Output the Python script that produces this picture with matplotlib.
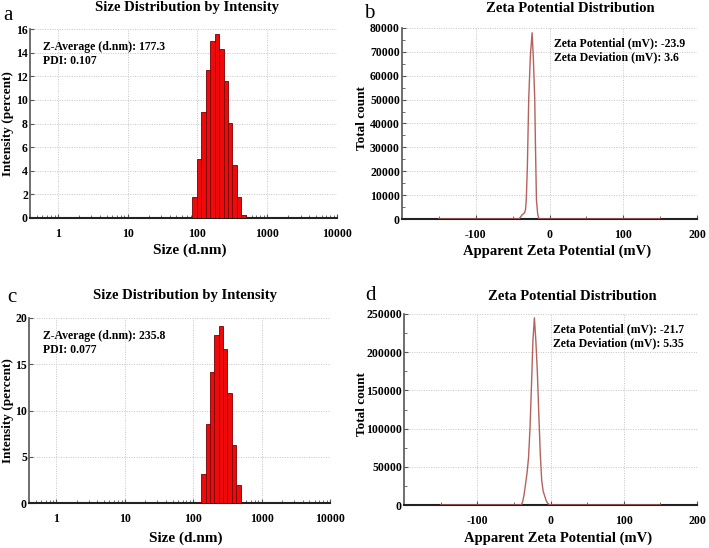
import numpy as np
import matplotlib
matplotlib.use("Agg")
import matplotlib.pyplot as plt
from matplotlib.ticker import FixedLocator, NullFormatter, LogLocator

# ---------------- data ----------------
size_a = [78.82, 91.28, 105.7, 122.4, 141.8, 164.2, 190.1, 220.2, 255.0, 295.3, 342.0, 396.1, 458.7]
intensity_a = [0.1, 1.78, 5.03, 8.95, 12.54, 14.97, 15.54, 14.27, 11.58, 8.05, 4.52, 1.78, 0.28]

size_c = [122.4, 141.8, 164.2, 190.1, 220.2, 255.0, 295.3, 342.0, 396.1, 458.7]
intensity_c = [0.07, 3.1, 8.5, 14.2, 18.2, 19.1, 16.6, 11.9, 6.3, 1.95]

zeta_b = [-150, -43, -40, -37, -34, -32.5, -31.5, -30, -28.2, -26, -23.6, -22, -20, -19, -17.7, -16, -14.5, -13.5, 150]
count_b = [0, 0, 500, 1800, 2500, 4000, 8000, 22000, 50000, 68000, 78000, 68000, 50000, 30000, 8000, 2000, 300, 0, 0]

zeta_d = [-150, -40, -38, -36, -34, -32, -30, -28, -26, -24, -22, -20, -18, -16, -14, -12, -10, -8, -6, -4, -2, 0, 150]
count_d = [0, 0, 4000, 14000, 28000, 42000, 62000, 100000, 155000, 215000, 245000, 215000, 175000, 120000, 68000, 32000, 18000, 12000, 6000, 2500, 700, 0, 0]

size_ticks = [1, 10, 100, 1000, 10000]
size_tick_labels = ["1", "10", "100", "1000", "10000"]
zeta_ticks = [-100, 0, 100, 200]
zeta_tick_labels = ["-100", "0", "100", "200"]

notes_a = ["Z-Average (d.nm): 177.3", "PDI: 0.107"]
notes_b = ["Zeta Potential (mV): -23.9", "Zeta Deviation (mV): 3.6"]
notes_c = ["Z-Average (d.nm): 235.8", "PDI: 0.077"]
notes_d = ["Zeta Potential (mV): -21.7", "Zeta Deviation (mV): 5.35"]

# ---------------- style ----------------
plt.rcParams['font.family'] = ['Liberation Serif', 'DejaVu Serif']
W, H = 709, 548
fig = plt.figure(figsize=(W / 100, H / 100), dpi=100)

def rect(l, r, t, b):
    return [l / W, 1 - b / H, (r - l) / W, (b - t) / H]

def ftext(x, y, s, **kw):
    fig.text(x / W, 1 - y / H, s, **kw)

TICK_FS = 8.5
TITLE_FS = 10.5
NOTE_FS = 8.5
GRID_KW = dict(color='#c4c4c4', linestyle=(0, (1, 1.5)), linewidth=0.7)

def style_axes(ax):
    for side in ['top', 'right']:
        ax.spines[side].set_visible(False)
    ax.spines['left'].set_color('#555555')
    ax.spines['left'].set_linewidth(1.2)
    ax.spines['bottom'].set_color('#222222')
    ax.spines['bottom'].set_linewidth(1.5)
    ax.tick_params(which='both', direction='in', colors='#555555', labelcolor='black',
                   labelsize=TICK_FS)
    ax.tick_params(which='major', length=3, width=0.8, pad=1.5)
    ax.tick_params(which='minor', length=2, width=0.6)
    for lab in ax.get_xticklabels() + ax.get_yticklabels():
        lab.set_fontweight('bold')
    ax.grid(True, which='major', **GRID_KW)
    ax.set_axisbelow(True)

def size_panel(box, sizes, vals, ymax, ystep, notes, note_xy, title_xy, title,
               letter, letter_xy, xlab_y, ylab_x):
    ax = fig.add_axes(rect(*box))
    s = np.asarray(sizes, dtype=float)
    logs = np.log10(s)
    step = np.mean(np.diff(logs))
    left = 10 ** (logs - step / 2)
    right = 10 ** (logs + step / 2)
    ax.bar(left, vals, width=right - left, align='edge', color='#ee0a0a',
           edgecolor='#7a0000', linewidth=0.6, zorder=3)
    ax.set_xscale('log')
    ax.set_xlim(0.4, 10000)
    ax.set_ylim(0, ymax)
    ax.xaxis.set_major_locator(FixedLocator(size_ticks))
    ax.set_xticklabels(size_tick_labels)
    ax.xaxis.set_minor_locator(LogLocator(base=10, subs=np.arange(2, 10)))
    ax.xaxis.set_minor_formatter(NullFormatter())
    yt = np.arange(0, ymax + 0.001, ystep)
    ax.set_yticks(yt)
    ax.set_yticklabels([f"{v:g}" for v in yt])
    style_axes(ax)
    ax.tick_params(axis='x', pad=7)
    ftext(title_xy[0], title_xy[1], title, ha='center', va='center',
          fontsize=TITLE_FS, fontweight='bold')
    ftext(letter_xy[0], letter_xy[1], letter, ha='center', va='center', fontsize=15)
    ftext(note_xy[0], note_xy[1], notes[0], ha='left', va='center', fontsize=NOTE_FS, fontweight='bold')
    ftext(note_xy[0], note_xy[1] + 14, notes[1], ha='left', va='center', fontsize=NOTE_FS, fontweight='bold')
    cx = (box[0] + box[1]) / 2 + 6
    ftext(cx, xlab_y, "Size (d.nm)", ha='center', va='center', fontsize=11, fontweight='bold')
    ftext(ylab_x, (box[2] + box[3]) / 2, "Intensity (percent)", ha='center', va='center',
          fontsize=9.5, fontweight='bold', rotation=90)
    return ax

def zeta_panel(box, xs, ys, ymax, ystep, notes, note_xy, title_xy, letter, letter_xy,
               xlab_y, ylab_x):
    ax = fig.add_axes(rect(*box))
    ax.plot(xs, ys, color='#b5625c', linewidth=1.0, zorder=3)
    ax.set_xlim(-200, 200)
    ax.set_ylim(0, ymax)
    ax.set_xticks(zeta_ticks)
    ax.set_xticklabels(zeta_tick_labels)
    ax.xaxis.set_minor_locator(FixedLocator([-150, -50, 50, 150]))
    yt = np.arange(0, ymax + 1, ystep)
    ax.set_yticks(yt)
    ax.set_yticklabels([f"{int(v)}" for v in yt])
    ax.yaxis.set_minor_locator(FixedLocator(np.arange(ystep / 2, ymax, ystep)))
    style_axes(ax)
    ax.tick_params(axis='x', pad=7)
    ftext(title_xy[0], title_xy[1], "Zeta Potential Distribution", ha='center', va='center',
          fontsize=TITLE_FS, fontweight='bold')
    ftext(letter_xy[0], letter_xy[1], letter, ha='center', va='center', fontsize=15)
    ftext(note_xy[0], note_xy[1], notes[0], ha='left', va='center', fontsize=NOTE_FS, fontweight='bold')
    ftext(note_xy[0], note_xy[1] + 14, notes[1], ha='left', va='center', fontsize=NOTE_FS, fontweight='bold')
    cx = (box[0] + box[1]) / 2 + 8
    ftext(cx, xlab_y, "Apparent Zeta Potential (mV)", ha='center', va='center',
          fontsize=10.5, fontweight='bold')
    ftext(ylab_x, (box[2] + box[3]) / 2 - 5, "Total count", ha='center', va='center',
          fontsize=9.5, fontweight='bold', rotation=90)
    return ax

# panel a
size_panel((30, 337, 29, 218), size_a, intensity_a, 16, 2, notes_a, (43, 47),
           (187, 8), "Size Distribution by Intensity", "a", (8, 15), 250, 8)
# panel b
zeta_panel((402, 697, 28, 219), zeta_b, count_b, 80000, 10000, notes_b, (554, 43),
           (570, 9), "b", (369, 14), 251, 362)
# panel c
size_panel((29, 330, 318, 503), size_c, intensity_c, 20, 5, notes_c, (43, 336),
           (185, 295), "Size Distribution by Intensity", "c", (12, 298), 538, 8)
# panel d
zeta_panel((404, 697, 314, 505), zeta_d, count_d, 250000, 50000, notes_d, (553, 329),
           (572, 296), "d", (371, 295), 538, 362)

fig.savefig("out.png", dpi=100)
